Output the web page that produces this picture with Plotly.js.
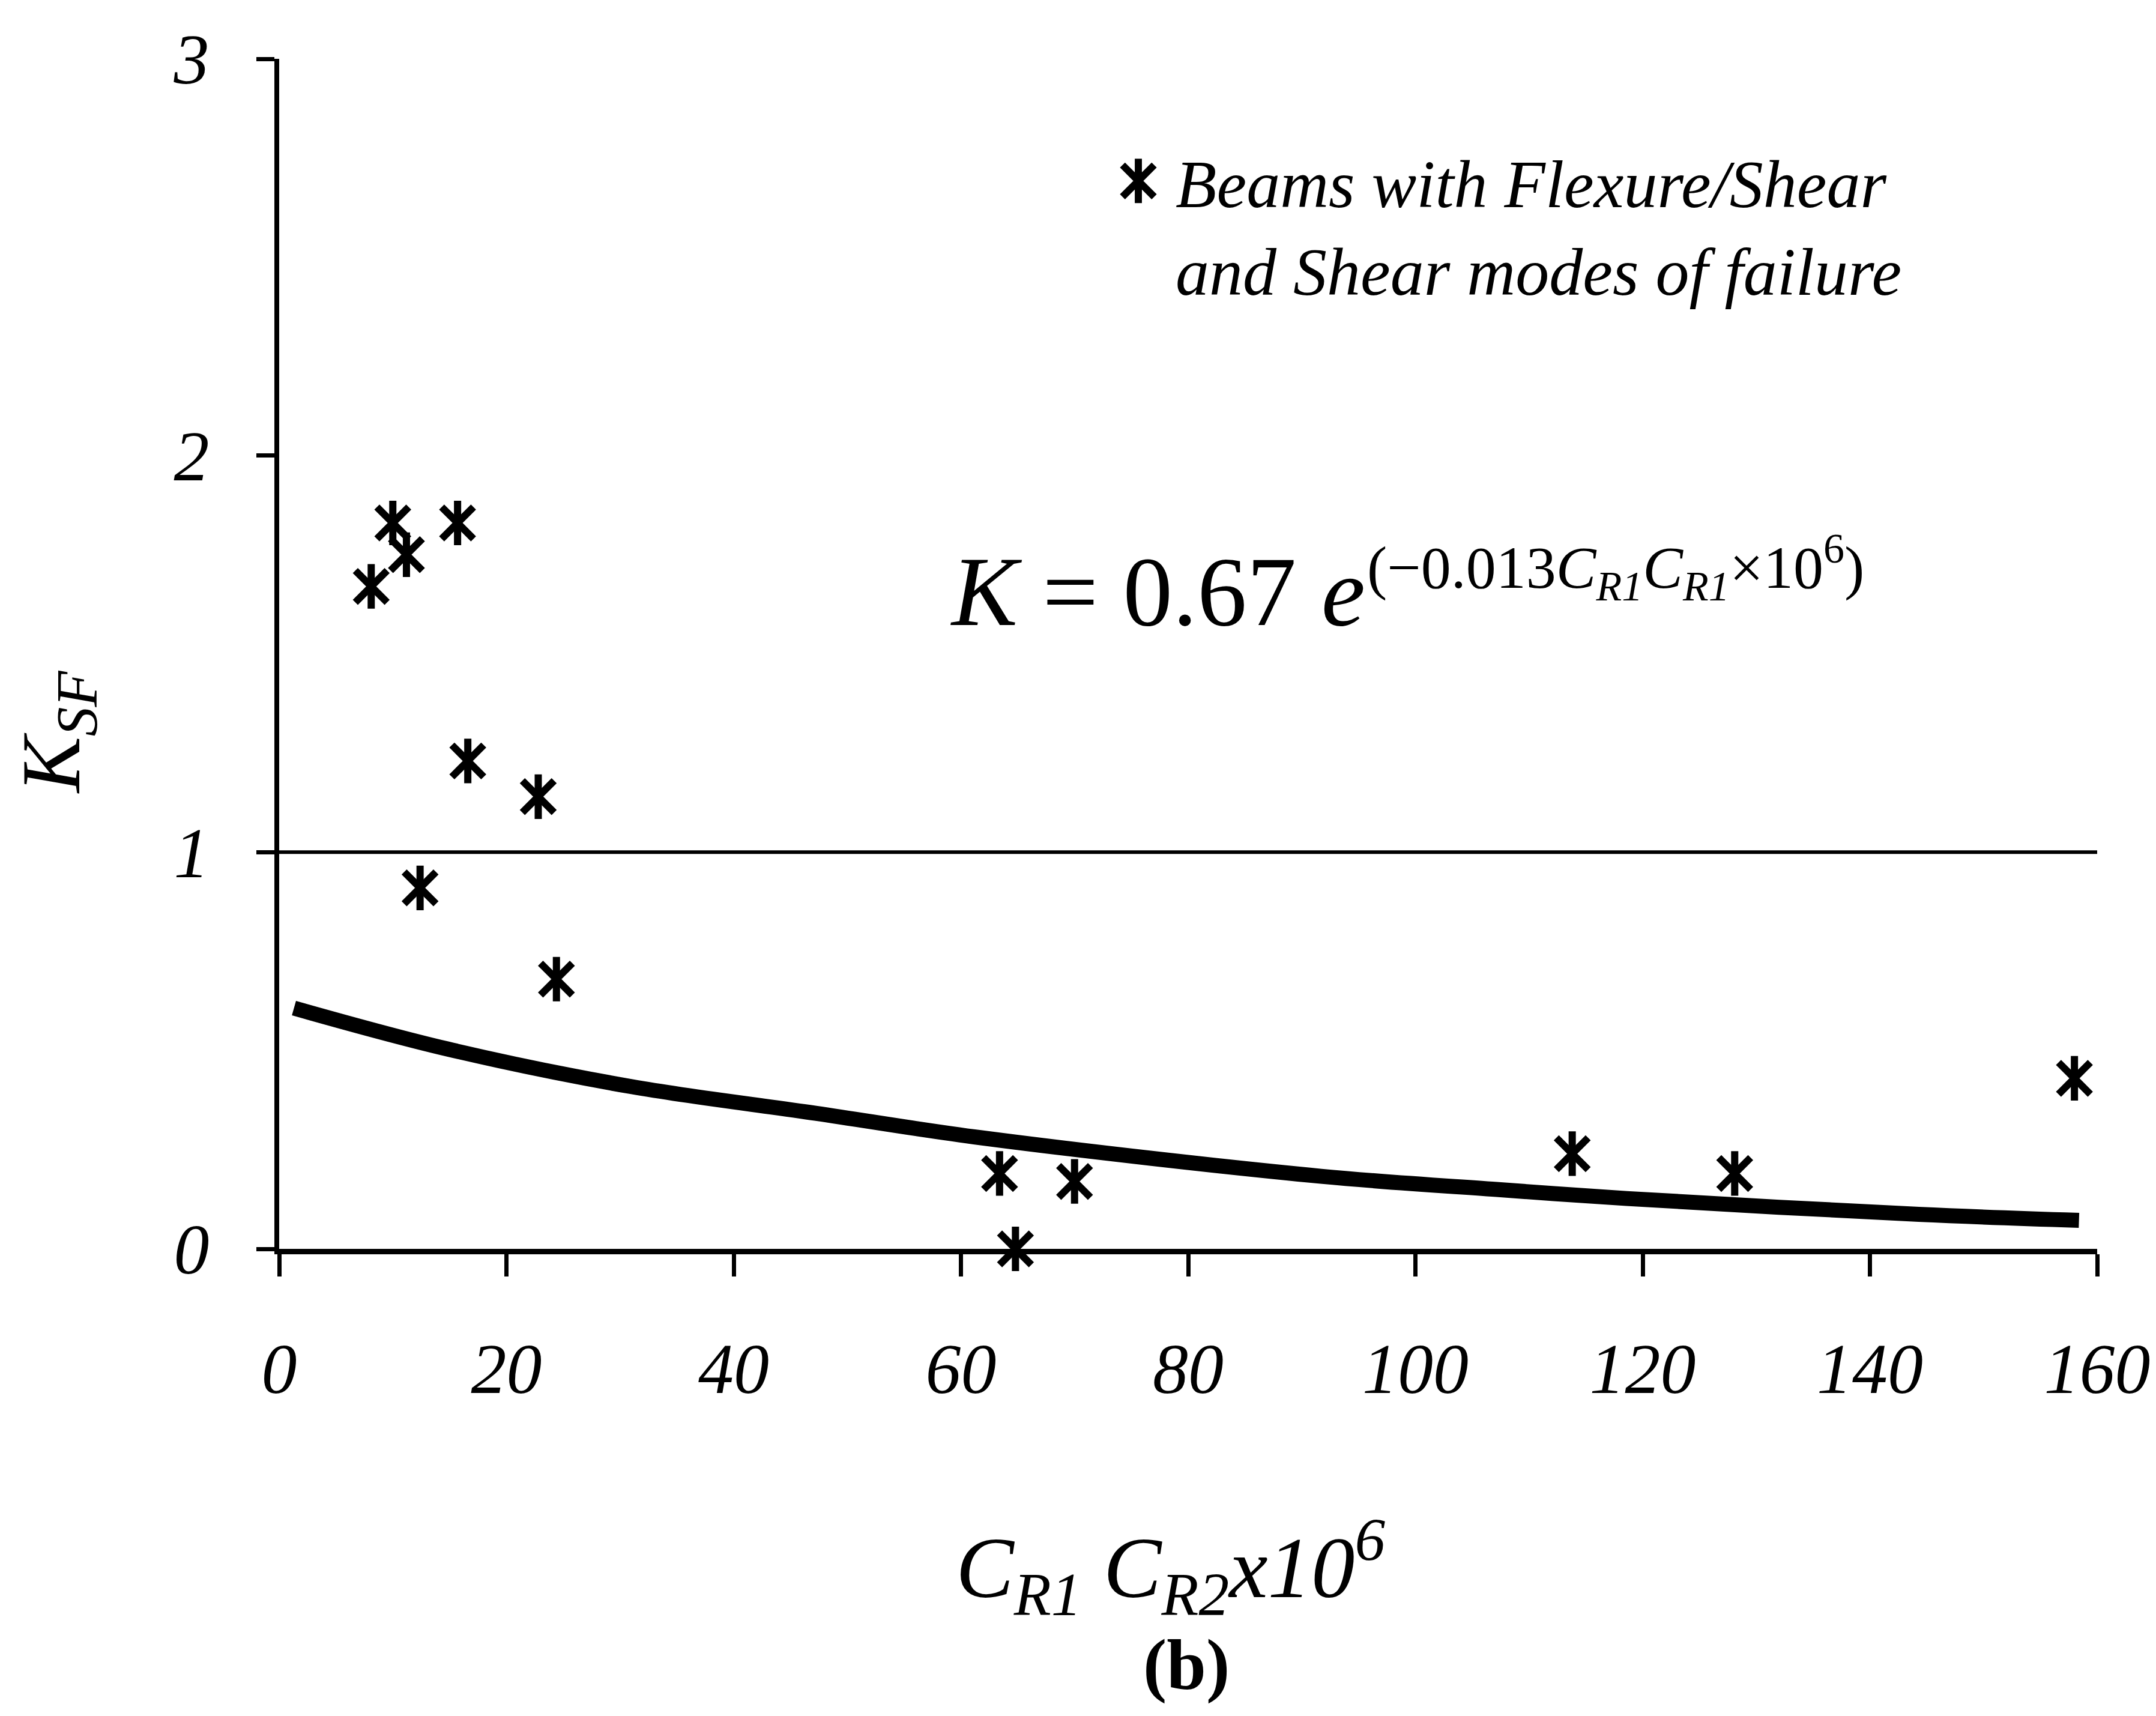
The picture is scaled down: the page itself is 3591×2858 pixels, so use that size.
<!DOCTYPE html>
<html><head><meta charset="utf-8">
<script src="https://cdn.plot.ly/plotly-3.0.1.min.js"></script>
<style>html,body{margin:0;padding:0;background:#fff}</style>
</head><body>
<div id="chart" style="width:3591px;height:2858px"></div>
<script>
// ---- data ----
const beamX = [8.1, 10.0, 11.2, 15.7, 16.6, 22.8, 12.4, 24.4, 63.4, 70.0, 64.8, 113.8, 128.1, 158.0];
const beamK = [1.67, 1.83, 1.75, 1.83, 1.23, 1.14, 0.91, 0.68, 0.19, 0.17, 0.00, 0.24, 0.19, 0.43];
const fitX = [1.3, 14.8, 31.0, 47.2, 61.8, 91.7, 107.5, 118.6, 144.3, 158.4];
const fitK = [0.607, 0.504, 0.409, 0.342, 0.280, 0.183, 0.149, 0.127, 0.087, 0.072];
const refLevel = [1];
const xTickVals = [0, 20, 40, 60, 80, 100, 120, 140, 160];
const yTickVals = [0, 1, 2, 3];
const seriesName = 'Beams with Flexure/Shear<br>and Shear modes of failure';

const SERIF = 'Liberation Serif, Times New Roman, serif';
const mSize = 53, mLine = 12;

const data = [
  { type: 'scatter', mode: 'lines', x: fitX, y: fitK, showlegend: false,
    line: { color: '#000', width: 25, shape: 'spline' }, hoverinfo: 'skip' },
  { type: 'scatter', mode: 'markers', x: beamX, y: beamK, name: seriesName, legend: 'legend', cliponaxis: false,
    marker: { symbol: 'x-thin-open', size: mSize, color: '#000', line: { color: '#000', width: mLine } } },
  { type: 'scatter', mode: 'markers', x: beamX, y: beamK, name: seriesName, legend: 'legend2', cliponaxis: false,
    marker: { symbol: 'line-ns-open', size: mSize, color: '#000', line: { color: '#000', width: mLine } } }
];

const L = 465, R = 3493, T = 98, B = 2080;
const W = R - L, H = B - T;
const px = x => (x - L) / W;
const py = y => (B - y) / H;

const legendCommon = {
  x: px(1834), y: py(222), xanchor: 'left', yanchor: 'top',
  bgcolor: 'rgba(0,0,0,0)', borderwidth: 0, itemwidth: 114, valign: 'top',
  itemclick: false, itemdoubleclick: false
};

const layout = {
  width: 3591, height: 2858,
  margin: { l: L, r: 3591 - R, t: T, b: 2858 - B },
  paper_bgcolor: '#fff', plot_bgcolor: '#fff',
  showlegend: true,
  legend: Object.assign({}, legendCommon, { font: { family: SERIF, size: 112, color: '#000', style: 'italic' } }),
  legend2: Object.assign({}, legendCommon, { font: { family: SERIF, size: 112, color: 'rgba(0,0,0,0)', style: 'italic' } }),
  xaxis: {
    range: [0, 160], tickvals: xTickVals, ticktext: xTickVals.map(String),
    showgrid: false, zeroline: false, showline: true, linecolor: '#000', linewidth: 9,
    ticks: 'outside', ticklen: 37, tickwidth: 7, tickcolor: '#000',
    ticklabelstandoff: 52,
    tickfont: { family: SERIF, size: 118, color: '#000', style: 'italic' }
  },
  yaxis: {
    range: [0, 3], tickvals: yTickVals, ticktext: yTickVals.map(String),
    showgrid: false, zeroline: false, showline: true, linecolor: '#000', linewidth: 8,
    ticks: 'outside', ticklen: 30, tickwidth: 7, tickcolor: '#000',
    ticklabelstandoff: 55,
    tickfont: { family: SERIF, size: 118, color: '#000', style: 'italic' }
  },
  shapes: refLevel.map(v => ({
    type: 'line', xref: 'x', yref: 'y', x0: 0, x1: 160, y0: v, y1: v,
    line: { color: '#000', width: 6 }
  })),
  annotations: [
    { xref: 'paper', yref: 'paper', x: px(1581), y: py(985), xanchor: 'left', yanchor: 'middle', showarrow: false,
      text: '<i>K</i> = 0.67 <i>e</i>', font: { family: SERIF, size: 165, color: '#000' } },
    { xref: 'paper', yref: 'paper', x: px(2275), y: py(945), xanchor: 'left', yanchor: 'middle', showarrow: false,
      text: '(\u22120.013<i>C</i><sub><i>R1</i></sub><i>C</i><sub><i>R1</i></sub>\u00d710<sup>6</sup>)',
      font: { family: SERIF, size: 100, color: '#000' } },
    { xref: 'paper', yref: 'paper', x: px(95), y: py(1220), xanchor: 'center', yanchor: 'middle', showarrow: false,
      textangle: -90, text: '<i>K</i><sub><i>SF</i></sub>', font: { family: SERIF, size: 140, color: '#000' } },
    { xref: 'paper', yref: 'paper', x: px(1950), y: py(2610), xanchor: 'center', yanchor: 'middle', showarrow: false,
      text: '<i>C</i><sub><i>R1</i></sub> <i>C</i><sub><i>R2</i></sub><i>x10</i><sup><i>6</i></sup>',
      font: { family: SERIF, size: 145, color: '#000' } },
    { xref: 'paper', yref: 'paper', x: px(1976), y: py(2772), xanchor: 'center', yanchor: 'middle', showarrow: false,
      text: '<b>(b)</b>', font: { family: SERIF, size: 118, color: '#000' } }
  ]
};

Plotly.newPlot('chart', data, layout, { staticPlot: true }).then(gd => {
  // enlarge the legend key symbols (plotly caps them at 16px) to match the plotted markers
  gd.querySelectorAll('g[class^="legend"] path.scatterpts').forEach(p => {
    if (p.dataset.scaled) return;
    p.dataset.scaled = '1';
    const t = p.getAttribute('transform') || '';
    p.setAttribute('transform', t + ' scale(3.3)');
    p.style.strokeWidth = '3.6px';
  });
});
</script>
</body></html>
